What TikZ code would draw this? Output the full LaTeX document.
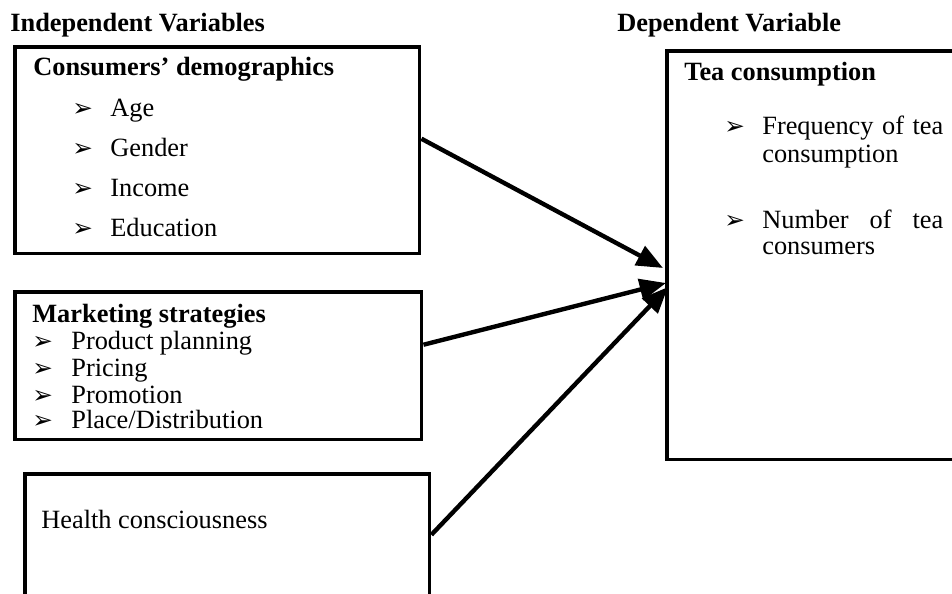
\documentclass[tikz,border=0pt]{standalone}
\usepackage{fontspec}
\setmainfont{Liberation Serif}
\newfontfamily\dingfont{DejaVu Sans}
\usetikzlibrary{arrows.meta}
\tikzset{box/.style={draw, line width=2pt, anchor=north west, inner sep=0pt},
 head/.style={anchor=base west, inner sep=0pt, font=\fontsize{15}{18}\selectfont\bfseries},
 item/.style={anchor=base west, inner sep=0pt, font=\fontsize{15}{18}\selectfont},
 pointer/.style={line width=2.5pt, -{Triangle[length=15pt,width=12pt]}},
 }
\newcommand{\bul}{{\dingfont\fontsize{14}{16}\selectfont ➢}}

\begin{document}
\begin{tikzpicture}[x=0.02cm, y=-0.02cm]
        \useasboundingbox (0,0) rectangle (952,594);
        \clip (0,0) rectangle (952,594);
        % titles
        \node[head] (indep) at (10,32) {Independent Variables};
        \node[head] (dep) at (617,32) {Dependent Variable};
        % boxes
        \node[box, minimum width=8.1cm, minimum height=4.14cm] (cons) at (13,45) {};
        \node[box, minimum width=8.14cm, minimum height=2.96cm] (mkt) at (13,290) {};
        \node[box, minimum width=8.1cm, minimum height=2.6cm] (health) at (23,472) {};
        \node[box, minimum width=6cm, minimum height=8.18cm] (tea) at (665,49) {};
        % consumers' demographics
        \node[head] (consT) at (33,76) {Consumers’ demographics};
        \node[item] (b1) at (72,117) {\bul};
        \node[item] (age) at (110,117) {Age};
        \node[item] (b2) at (72,157) {\bul};
        \node[item] (gender) at (110,157) {Gender};
        \node[item] (b3) at (72,197) {\bul};
        \node[item] (income) at (110,197) {Income};
        \node[item] (b4) at (72,236) {\bul};
        \node[item] (edu) at (110,236) {Education};
        % marketing strategies
        \node[head] (mktT) at (32,322) {Marketing strategies};
        \node[item] (m1) at (32,349) {\bul};
        \node[item] (plan) at (71,349) {Product planning};
        \node[item] (m2) at (32,376) {\bul};
        \node[item] (price) at (71,376) {Pricing};
        \node[item] (m3) at (32,403) {\bul};
        \node[item] (promo) at (71,403) {Promotion};
        \node[item] (m4) at (32,428) {\bul};
        \node[item] (place) at (71,428) {Place/Distribution};
        % health
        \node[item] (healthT) at (41,528) {Health consciousness};
        % tea consumption
        \node[head] (teaT) at (684,81) {Tea consumption};
        \node[item] (t1) at (724,135) {\bul};
        \node[item] (freq) at (762,135) {\makebox[3.62cm][s]{Frequency of tea}};
        \node[item] (freq2) at (762,163) {consumption};
        \node[item] (t2) at (724,229) {\bul};
        \node[item] (num) at (762,229) {\makebox[3.62cm][s]{Number of tea}};
        \node[item] (num2) at (762,255) {consumers};
        % arrows
        \coordinate (hitA) at (663,268);
        \coordinate (hitB) at (666,283);
        \coordinate (hitC) at (668,287);
        \draw[pointer] ([yshift=0.23cm]cons.east) -- (hitA);
        \draw[pointer] ([yshift=0.42cm]mkt.east) -- (hitB);
        \draw[pointer] ([yshift=0.08cm]health.east) -- (hitC);
    \end{tikzpicture}
\end{document}
